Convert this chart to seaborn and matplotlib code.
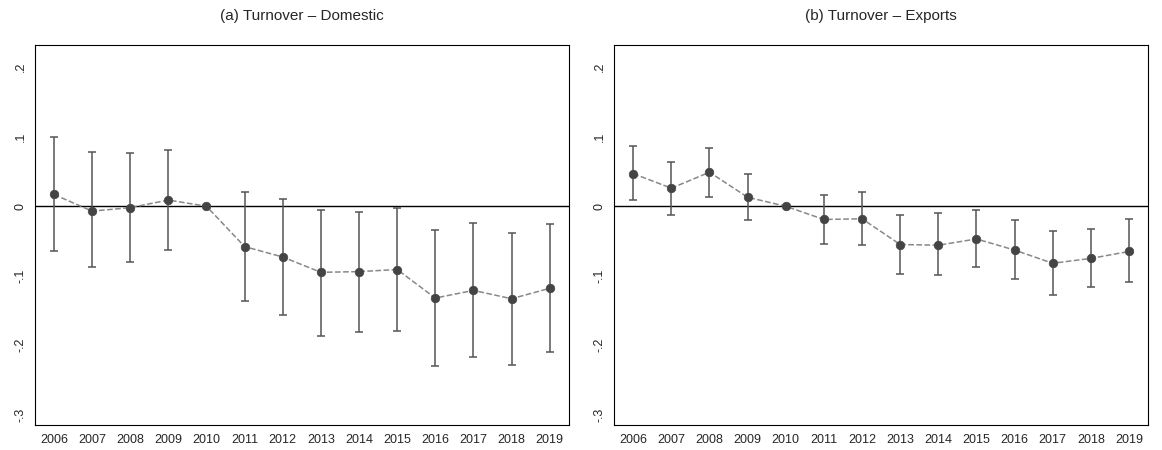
import numpy as np
import pandas as pd
import matplotlib
matplotlib.use("Agg")
import matplotlib.pyplot as plt
import seaborn as sns

years = list(range(2006, 2020))

dom_coef = [0.017, -0.007, -0.002, 0.009, 0.0, -0.058, -0.073, -0.095, -0.094, -0.091, -0.132, -0.121, -0.133, -0.118]
dom_hi = [0.099, 0.078, 0.077, 0.081, 0.0, 0.020, 0.010, -0.005, -0.008, -0.002, -0.034, -0.024, -0.038, -0.025]
dom_lo = [-0.064, -0.088, -0.080, -0.063, 0.0, -0.136, -0.156, -0.186, -0.181, -0.180, -0.230, -0.217, -0.228, -0.210]

exp_coef = [0.047, 0.026, 0.049, 0.013, 0.0, -0.019, -0.018, -0.055, -0.056, -0.047, -0.063, -0.082, -0.075, -0.065]
exp_hi = [0.086, 0.064, 0.084, 0.046, 0.0, 0.016, 0.020, -0.012, -0.010, -0.005, -0.020, -0.036, -0.032, -0.018]
exp_lo = [0.009, -0.012, 0.014, -0.020, 0.0, -0.054, -0.056, -0.098, -0.099, -0.087, -0.104, -0.128, -0.116, -0.109]

titles = ["(a) Turnover \u2013 Domestic", "(b) Turnover \u2013 Exports"]
yticks = [0.2, 0.1, 0.0, -0.1, -0.2, -0.3]
ylabels = [".2", ".1", "0", "-.1", "-.2", "-.3"]

sns.set_theme(style="white")
plt.rcParams['font.family'] = ['Liberation Sans', 'DejaVu Sans']

fig, axes = plt.subplots(1, 2, figsize=(11.62, 4.5), dpi=100)
fig.subplots_adjust(left=0.03, right=0.988, top=0.9, bottom=0.055, wspace=0.085)

for ax, title, coef, lo, hi in zip(axes, titles, [dom_coef, exp_coef], [dom_lo, exp_lo], [dom_hi, exp_hi]):
    df = pd.DataFrame({"year": years, "coef": coef, "lo": lo, "hi": hi})
    ax.axhline(0, color="black", lw=1, zorder=1)
    ax.errorbar(df["year"], df["coef"],
                yerr=[df["coef"] - df["lo"], df["hi"] - df["coef"]],
                fmt="none", ecolor="#555555", elinewidth=1.1, capsize=3, capthick=1.1, zorder=2)
    sns.lineplot(data=df, x="year", y="coef", ax=ax, color="#888888", lw=1.1,
                 linestyle="--", zorder=3)
    sns.scatterplot(data=df, x="year", y="coef", ax=ax, color="#444444", s=38,
                    edgecolor="#444444", zorder=4)
    ax.set_xlim(2005.5, 2019.5)
    ax.set_ylim(-0.315, 0.232)
    ax.set_xticks(years)
    ax.set_xticklabels([str(y) for y in years], fontsize=9)
    ax.set_yticks(yticks)
    ax.set_yticklabels(ylabels, rotation=90, va="center", fontsize=9)
    ax.tick_params(axis="both", direction="out", length=4, width=0.8, color="black", pad=2)
    ax.set_xlabel("")
    ax.set_ylabel("")
    ax.set_title(title, fontsize=11, pad=18)
    for s in ax.spines.values():
        s.set_color("black")
        s.set_linewidth(0.8)

fig.savefig("out.png", dpi=100)
